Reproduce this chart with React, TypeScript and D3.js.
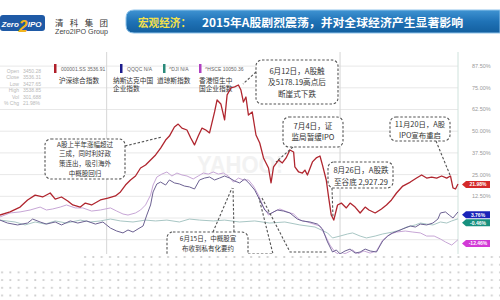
import React from 'react';
import * as d3 from 'd3';

// ---------- data ----------
const yTicks = [87.5, 75, 62.5, 50, 37.5, 25, 12.5, 0, -12.5];
const yTickLabels = [87.5, 75, 62.5, 50, 37.5, 25, 12.5];
const vGridDays = [85, 271];

const redDays = [0, 8, 16, 22, 28, 34, 40, 44, 49, 54, 58, 64, 68, 73, 80, 86, 92, 96, 100, 104, 108, 112, 116, 120, 124, 128, 132, 135, 139, 142, 145, 149, 152, 155, 158, 161, 164, 167, 171, 173, 176, 179, 181, 184, 187, 190, 192, 194, 196, 198, 201, 204, 207, 210, 214, 216, 218, 222, 225, 228, 231, 234, 235, 238, 241, 243, 245, 249, 252, 255, 257, 260, 262, 264, 266, 269, 272, 276, 279, 283, 287, 291, 294, 299, 304, 308, 312, 316, 321, 327, 332, 336, 340, 344, 348, 352, 356, 359, 361, 363, 365];
const redPct = [1.7, 3.5, 6.3, 10.4, 13.2, 12.1, 14.4, 10.9, 12.1, 9.8, 7.5, 6.3, 8.6, 7.5, 10.4, 11.5, 12.7, 15.0, 19.0, 21.9, 24.2, 28.8, 30.5, 33.4, 36.3, 40.3, 44.9, 47.2, 52.4, 54.1, 51.8, 50.7, 46.1, 42.1, 47.2, 51.8, 50.7, 49.0, 61.1, 68.0, 65.7, 56.5, 70.9, 74.9, 75.5, 76.6, 73.7, 66.8, 69.7, 59.3, 61.1, 47.8, 43.2, 34.6, 28.8, 20.2, 29.4, 33.4, 31.7, 34.6, 39.2, 38.0, 29.4, 26.5, 25.9, 27.6, 24.8, 32.3, 34.6, 35.7, 30.5, 21.9, 11.5, 1.7, -1.2, 7.5, 8.6, 5.8, 8.6, 6.3, 2.9, 6.3, 4.6, 2.9, 5.2, 7.5, 10.4, 14.4, 18.4, 20.7, 23.0, 24.8, 23.0, 23.6, 23.0, 24.2, 23.0, 24.2, 17.3, 16.7, 19.6];

const qqqcDays = [0, 6, 14, 22, 26, 32, 37, 44, 49, 56, 62, 69, 76, 82, 88, 93, 98, 102, 106, 110, 114, 117, 120, 122, 125, 128, 132, 135, 139, 143, 147, 151, 155, 159, 163, 167, 171, 175, 179, 183, 187, 191, 195, 199, 203, 207, 211, 215, 221, 226, 231, 237, 241, 247, 253, 257, 261, 265, 268, 271, 275, 279, 283, 287, 291, 295, 300, 305, 309, 313, 317, 321, 327, 331, 335, 340, 345, 349, 351, 355, 358, 361, 365];
const qqqcPct = [-1.2, -2.9, -4.0, -2.9, -0.6, -2.3, -3.5, -2.3, -4.0, -1.7, -2.9, -1.7, -3.5, -2.3, -5.8, -7.5, -8.6, -6.9, -8.1, -6.3, -4.6, 1.7, 7.5, 15.0, 19.6, 20.7, 19.0, 21.9, 20.2, 19.6, 18.4, 17.9, 16.7, 21.9, 23.0, 23.6, 21.9, 23.0, 24.2, 23.0, 21.3, 20.2, 22.5, 19.6, 16.1, 10.4, 4.6, 2.3, 4.6, 4.0, 2.9, -0.6, -1.7, -2.3, -3.5, -6.3, -13.8, -19.6, -18.4, -20.7, -19.0, -17.9, -20.2, -19.6, -17.9, -19.0, -19.6, -13.2, -10.4, -8.6, -7.5, -6.3, -4.6, -5.2, -3.5, -4.0, -2.9, -0.6, 2.9, 3.5, 1.7, 0.0, 3.5];

const djiDays = [0, 12, 20, 28, 36, 44, 53, 64, 72, 80, 88, 96, 106, 116, 124, 133, 143, 151, 159, 170, 179, 191, 203, 215, 227, 239, 251, 261, 265, 271, 277, 281, 287, 292, 299, 305, 313, 319, 324, 331, 335, 340, 345, 351, 356, 360, 365];
const djiPct = [-1.2, -2.3, -4.0, -2.3, -3.5, -1.7, -2.9, -1.2, -2.3, -1.7, -0.6, -1.7, -2.3, -1.2, -1.7, -1.2, -2.3, -0.6, -1.2, -1.7, -1.2, -2.3, -1.7, -2.9, -2.3, -4.0, -5.2, -8.6, -11.5, -10.4, -9.2, -8.6, -10.4, -11.5, -10.4, -9.2, -8.1, -6.9, -5.2, -4.0, -2.9, -3.5, -4.0, -2.3, -2.9, -1.7, -0.46];

const hsceDays = [0, 8, 16, 24, 32, 37, 42, 48, 53, 60, 66, 73, 80, 88, 93, 98, 102, 108, 112, 116, 120, 122, 125, 129, 133, 137, 141, 145, 149, 154, 158, 162, 166, 170, 174, 178, 182, 186, 190, 194, 198, 202, 206, 210, 214, 218, 223, 229, 234, 239, 245, 250, 255, 259, 263, 267, 271, 276, 281, 285, 290, 295, 300, 305, 311, 316, 323, 329, 335, 340, 346, 351, 355, 360, 365];
const hscePct = [0.6, 2.9, 3.5, 4.6, 6.3, 4.6, 5.2, 6.3, 7.5, 5.8, 5.8, 4.0, 4.6, 5.8, 4.0, 2.3, 1.7, 2.9, 4.6, 7.5, 13.2, 19.0, 23.6, 25.3, 26.5, 24.2, 25.9, 24.8, 24.2, 22.5, 24.2, 25.9, 25.3, 26.5, 25.3, 25.9, 24.2, 20.7, 23.0, 21.9, 21.9, 18.4, 13.2, 6.3, 1.7, 3.5, 5.2, 3.5, 2.3, -1.2, -2.3, -3.5, -4.6, -9.8, -15.6, -19.6, -21.3, -20.2, -18.4, -20.7, -19.0, -20.2, -19.0, -12.7, -9.2, -8.1, -7.5, -8.1, -8.6, -10.4, -10.4, -12.1, -13.8, -15.6, -12.5];

const legendCodes = ['000001.SS 3536.91', 'QQQC N/A', '^DJI N/A', '^HSCE 10050.36'];
const legendNames = [['沪深综合指数'], ['纳斯达克中国', '企业指数'], ['道琼斯指数'], ['香港恒生中', '国企业指数']];
const statLabels = ['Open', 'Close', 'Low', 'High', 'Vol', '% Chg'];
const statValues = ['3450.28', '3536.31', '3427.65', '3538.85', '301,688', '21.98%'];
const endLabels = ['21.98%', '3.76%', '-0.46%', '-12.46%'];

const titleTag = '宏观经济：';
const titleText = '2015年A股剧烈震荡，并对全球经济产生显著影响';
const logoParts = ['Zero', '2', 'IPO'];
const logoCn = '清 科 集 团';
const logoEn = 'Zero2IPO Group';

const ann1 = ['6月12日，A股触', '及5178.19高点后', '断崖式下跌'];
const ann2 = ['A股上半年涨幅超过', '三成，同时利好政', '策连出，吸引海外', '中概股回归'];
const ann3 = ['7月4日，证', '监局暂缓IPO'];
const ann4 = ['8月26日，A股跌', '至谷底 2,927.29'];
const ann5 = ['11月20日，A股', 'IPO宣布重启'];
const ann6 = ['6月15日，中概股宣', '布收到私有化要约'];

// ---------- styles ----------
const CN = '"Noto Sans CJK SC", "Noto Sans", sans-serif';
const LAT = '"Liberation Sans", Arial, sans-serif';
const seriesColors = ['#b0262f', '#6c6192', '#a8c6c4', '#c7a6d6'];
const markerColors = ['#b0202a', '#1c1c8c', '#2a8a7a', '#b040c0'];
const labelColors = ['#d42a2a', '#1a24b8', '#17907e', '#d23ad6'];

export default function App() {
  const x = d3.scaleLinear().domain([0, 365]).range([0, 458]);
  const y = d3.scaleLinear().domain([-12.5, 87.5]).range([239.7, 66.1]);

  const mkLine = (days: number[]) =>
    d3.line<number>().x((_, i) => x(days[i])).y((d) => y(d));

  const series = [
    { days: redDays, vals: redPct, w: 1.3 },
    { days: qqqcDays, vals: qqqcPct, w: 1 },
    { days: djiDays, vals: djiPct, w: 1 },
    { days: hsceDays, vals: hscePct, w: 1 },
  ];
  const drawOrder = [2, 3, 1, 0];
  const labelNudge = [0.5, 2.9, 4.0, 3.7];

  const legendMarkerX = [54, 120, 163, 199];
  const legendCodeX = [61, 127, 169, 205];
  const legendNameX = [59, 113, 157, 199];

  const boxes = [
    { t: ann1, fs: 7.6, x: 256, y: 60, w: 82, h: 44, cx: 297, y0: 71, dy: 11.5, leaders: [[[256, 72], [243, 84]]] },
    { t: ann2, fs: 6.5, x: 45, y: 139, w: 80, h: 40, cx: 85, y0: 144.3, dy: 9.7, leaders: [[[125, 146], [162, 137]]] },
    { t: ann3, fs: 7.6, x: 283, y: 117, w: 60, h: 30, cx: 313, y0: 126.5, dy: 11, leaders: [[[293, 147], [276, 162]]] },
    { t: ann4, fs: 7.6, x: 328, y: 162, w: 65, h: 26, cx: 361, y0: 170, dy: 12, leaders: [[[332, 188], [333, 218]]] },
    { t: ann5, fs: 7.4, x: 390, y: 117, w: 60, h: 24, cx: 420, y0: 124.3, dy: 10.8, leaders: [[[436, 141], [450, 175]]] },
    {
      t: ann6, fs: 6.5, x: 167, y: 232, w: 81, h: 36, cx: 208, y0: 239, dy: 9.7,
      leaders: [
        [[213, 232], [232, 188]],
        [[234, 232], [233, 188]],
        [[248, 254], [273, 254], [259, 198]],
        [[262, 198], [290, 252], [328, 252]],
      ],
    },
  ];

  const pathOf = (pts: number[][]) => 'M' + pts.map((p) => p.join(',')).join('L');

  return (
    <svg width={500} height={300} style={{ position: 'absolute', left: 0, top: 0, background: '#fff' }}>
      <defs>
        <linearGradient id="ban" x1="0" y1="0" x2="0" y2="1">
          <stop offset="0" stopColor="#3f93d2" />
          <stop offset="0.5" stopColor="#1f72b6" />
          <stop offset="1" stopColor="#135f9f" />
        </linearGradient>
        <pattern id="dots" patternUnits="userSpaceOnUse" x="0" y="0" width="8.3" height="7.7">
          <rect width="8.3" height="7.7" fill="#fff" />
          <path d="M1.3,2 L2.9,3.8 M2.9,2 L1.3,3.8" stroke="#a8a8a8" strokeWidth="0.6" />
        </pattern>
        <clipPath id="plot">
          <rect x={0} y={45} width={459} height={215} />
        </clipPath>
      </defs>

      {/* header */}
      <rect x={0} y={15} width={45} height={16} rx={3} fill="#1f5aa6" />
      <text x={1.5} y={27} fontFamily={LAT} fontStyle="italic" fontWeight="bold" fontSize={8} fill="#fff">
        <tspan>{logoParts[0]}</tspan>
        <tspan dy={5} fontSize={16} fill="#f2b51e">{logoParts[1]}</tspan>
        <tspan dy={-5} fontSize={8}>{logoParts[2]}</tspan>
      </text>
      <text x={55} y={26} fontFamily={CN} fontSize={8.5} fill="#333" textLength={53} lengthAdjust="spacing">{logoCn}</text>
      <text x={55} y={33.5} fontFamily={LAT} fontSize={7.5} fill="#444" textLength={53} lengthAdjust="spacingAndGlyphs">{logoEn}</text>

      <path d="M134,10 H500 V33 H134 Q126,33 126,25 V18 Q126,10 134,10 Z" fill="url(#ban)" stroke="#8ec3ea" strokeWidth={1} />
      <text x={138} y={26.5} fontFamily={CN} fontWeight="bold" fontSize={11.5} fill="#f4e04a" textLength={53} lengthAdjust="spacingAndGlyphs">{titleTag}</text>
      <text x={202} y={26.5} fontFamily={CN} fontWeight="bold" fontSize={11.5} fill="#fff" textLength={261} lengthAdjust="spacingAndGlyphs">{titleText}</text>

      {/* grid */}
      {yTicks.map((t) => (
        <line key={'g' + t} x1={0} x2={458} y1={y(t)} y2={y(t)} stroke="#e8e8e8" strokeWidth={1} />
      ))}
      {vGridDays.map((d) => (
        <line key={'v' + d} x1={x(d)} x2={x(d)} y1={52} y2={256} stroke="#d6d6d6" strokeWidth={1} />
      ))}
      <line x1={458} x2={458} y1={52} y2={256} stroke="#cfe2dc" strokeWidth={1} />
      {yTickLabels.map((t) => (
        <text key={'t' + t} x={472} y={y(t)} dy="0.35em" fontFamily={LAT} fontSize={5.5} fill="#9a9a9a">
          {d3.format('.2f')(t) + '%'}
        </text>
      ))}

      {/* watermark */}
      <text x={197} y={173} fontFamily={LAT} fontWeight="bold" fontSize={23} fill="#f2f2f2" textLength={86} lengthAdjust="spacingAndGlyphs">YAHOO!</text>

      {/* stats panel */}
      {statLabels.map((s, i) => (
        <g key={'s' + i}>
          <text x={19} y={72.8 + i * 6.5} textAnchor="end" fontFamily={LAT} fontSize={5} fill="#b8b8b8">{s}</text>
          <text x={23} y={72.8 + i * 6.5} fontFamily={LAT} fontSize={5} fill="#b8b8b8">{statValues[i]}</text>
        </g>
      ))}

      {/* legend */}
      {legendCodes.map((c, i) => (
        <g key={'l' + i}>
          <rect x={legendMarkerX[i]} y={64} width={2.5} height={9} fill={markerColors[i]} />
          <text x={legendCodeX[i]} y={70.8} fontFamily={LAT} fontSize={5} fill="#666">{c}</text>
          {legendNames[i].map((n, j) => (
            <text key={j} x={legendNameX[i]} y={82.5 + j * 8.8} fontFamily={CN} fontSize={6.7} fill="#333">{n}</text>
          ))}
        </g>
      ))}

      {/* series */}
      <g clipPath="url(#plot)">
        {drawOrder.map((k) => (
          <path key={'p' + k} d={mkLine(series[k].days)(series[k].vals) || ''} fill="none"
            stroke={seriesColors[k]} strokeWidth={series[k].w} strokeLinejoin="round" />
        ))}
      </g>

      {/* annotations */}
      {boxes.map((b, i) => (
        <g key={'a' + i}>
          {b.leaders.map((l, j) => (
            <path key={j} d={pathOf(l)} fill="none" stroke="#555" strokeWidth={1.1} strokeDasharray="2.5,1.8" />
          ))}
          <rect x={b.x} y={b.y} width={b.w} height={b.h} rx={6} fill="#fff" stroke="#555" strokeWidth={1.1} strokeDasharray="2.5,1.8" />
          {b.t.map((line, j) => (
            <text key={j} x={b.cx} y={b.y0 + j * b.dy} dy="0.35em" textAnchor="middle" fontFamily={CN} fontSize={b.fs} fill="#333">{line}</text>
          ))}
        </g>
      ))}

      {/* end labels */}
      {series.map((s, k) => {
        const cy = y(s.vals[s.vals.length - 1]) + labelNudge[k];
        return (
          <g key={'e' + k}>
            <path d={`M462,${cy} L466,${cy - 3.5} H490 V${cy + 3.5} H466 Z`} fill={labelColors[k]} />
            <text x={478} y={cy} dy="0.35em" textAnchor="middle" fontFamily={LAT} fontWeight="bold" fontSize={5} fill="#fff">{endLabels[k]}</text>
          </g>
        );
      })}

      {/* bottom dotted texture */}
      <path d="M0,267 H80 V254 H500 V300 H0 Z" fill="url(#dots)" />
    </svg>
  );
}
